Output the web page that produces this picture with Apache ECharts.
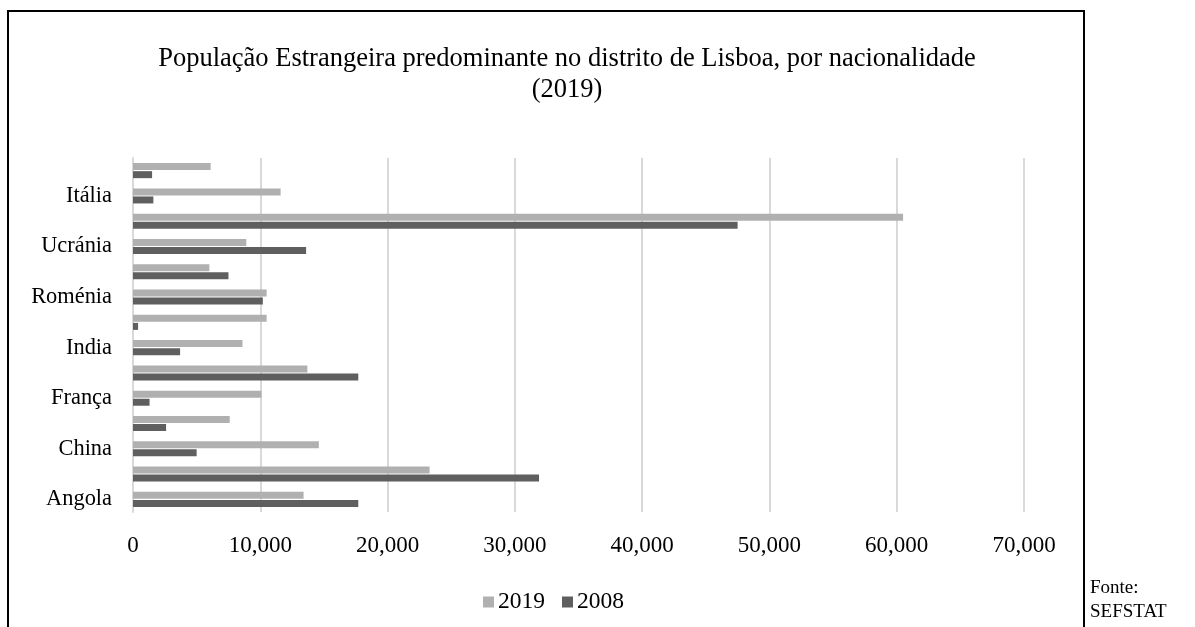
<!DOCTYPE html>
<html>
<head>
<meta charset="utf-8">
<script src="https://cdn.jsdelivr.net/npm/echarts@6/dist/echarts.min.js"></script>
<style>
  html, body { margin: 0; padding: 0; background: #fff; }
  #chart { width: 1195px; height: 627px; }
</style>
</head>
<body>
<div id="chart"></div>
<script>
  // categories from bottom to top (only every other one is labelled in the original)
  var countries = ['Angola', 'Cabo Verde', 'China', 'Espanha', 'França', 'Guiné-Bissau', 'India',
    'Nepal', 'Roménia', 'São Tomé e Príncipe', 'Ucránia', 'Brasil', 'Itália', 'Reino Unido'];
  var pop2019 = [13400, 23300, 14600, 7600, 10100, 13700, 8600, 10500, 10500, 6000, 8900, 60500, 11600, 6100];
  var pop2008 = [17700, 31900, 5000, 2600, 1300, 17700, 3700, 400, 10200, 7500, 13600, 47500, 1600, 1500];
  var xTicks = [0, 10000, 20000, 30000, 40000, 50000, 60000, 70000];

  var serif = '"Liberation Serif", "DejaVu Serif", serif';
  var chart = echarts.init(document.getElementById('chart'));

  chart.setOption({
    animation: false,
    title: {
      text: 'População Estrangeira predominante no distrito de Lisboa, por nacionalidade\n(2019)',
      left: 562,
      textAlign: 'center',
      top: 39,
      textStyle: {
        fontFamily: serif,
        fontWeight: 'normal',
        fontSize: 26.5,
        lineHeight: 31,
        color: '#000'
      }
    },
    legend: {
      data: ['2019', '2008'],
      left: 478,
      top: 585,
      itemWidth: 11,
      itemHeight: 11,
      itemGap: 17,
      icon: 'rect',
      textStyle: { fontFamily: serif, fontSize: 23.5, color: '#000', padding: [0, 0, 0, -1] }
    },
    grid: { left: 133, right: 171, top: 158, bottom: 115 },
    xAxis: {
      type: 'value',
      min: xTicks[0],
      max: xTicks[xTicks.length - 1],
      interval: 10000,
      axisLine: { show: false },
      axisTick: { show: false },
      splitLine: { lineStyle: { color: '#d9d9d9', width: 2 } },
      axisLabel: {
        margin: 22,
        fontFamily: serif,
        fontSize: 23,
        color: '#000',
        formatter: function (v) { return v.toLocaleString('en-US'); }
      }
    },
    yAxis: {
      type: 'category',
      data: countries,
      axisTick: { show: false },
      axisLine: { lineStyle: { color: '#d9d9d9', width: 2 } },
      axisLabel: {
        interval: 1,
        margin: 21,
        fontFamily: serif,
        fontSize: 22.4,
        color: '#000'
      }
    },
    series: [
      {
        name: '2019',
        type: 'bar',
        data: pop2019,
        barWidth: 7,
        barGap: '15%',
        itemStyle: { color: '#b0b0b0' }
      },
      {
        name: '2008',
        type: 'bar',
        data: pop2008,
        barWidth: 7,
        barGap: '15%',
        itemStyle: { color: '#5f5f5f' }
      }
    ],
    graphic: [
      {
        type: 'polyline',
        shape: { points: [[8, 640], [8, 11], [1084, 11], [1084, 640]] },
        style: { stroke: '#000', lineWidth: 2, fill: null }
      },
      {
        type: 'text',
        left: 1090,
        top: 576,
        style: {
          text: 'Fonte:\nSEFSTAT',
          font: '19px ' + serif,
          lineHeight: 24,
          fill: '#000'
        }
      }
    ]
  });
</script>
</body>
</html>
